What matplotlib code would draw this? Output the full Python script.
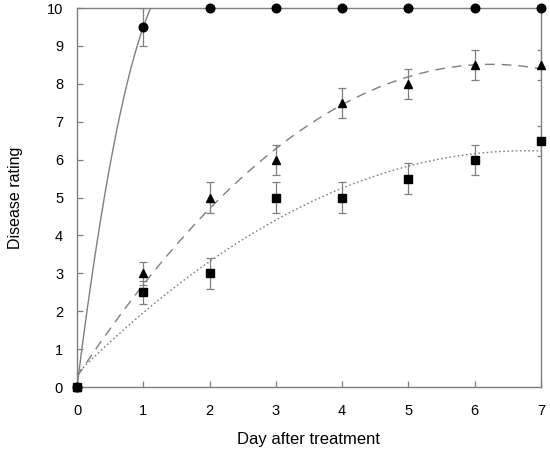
import numpy as np
import matplotlib
matplotlib.use('Agg')
import matplotlib.pyplot as plt

plt.rcParams['font.family'] = ['Liberation Sans', 'DejaVu Sans']

days = [0, 1, 2, 3, 4, 5, 6, 7]

# disease rating per treatment
circle_y = [0, 9.5, 10, 10, 10, 10, 10, 10]
circle_err = [0, 0.5, 0, 0, 0, 0, 0, 0]
triangle_y = [0, 3, 5, 6, 7.5, 8, 8.5, 8.5]
triangle_err = [0, 0.3, 0.4, 0.4, 0.4, 0.4, 0.4, 0.4]
square_y = [0, 2.5, 3, 5, 5, 5.5, 6, 6.5]
square_err = [0, 0.3, 0.4, 0.4, 0.4, 0.4, 0.4, 0.4]

gray = '#7f7f7f'

fig = plt.figure(figsize=(5.5, 4.49), dpi=100)
ax = fig.add_axes([0.14, 0.138, 0.8436, 0.844])

xs = np.linspace(0, 7, 400)

# fitted curves (quadratic regression), circle curve levels off at the max rating
c_fit = np.polyfit(days[:3], circle_y[:3], 2)
c_curve = np.maximum.accumulate(np.minimum(np.polyval(c_fit, xs), 10))
ax.plot(xs, c_curve, color=gray, lw=1.0, zorder=2)
t_fit = np.polyfit(days, triangle_y, 2)
ax.plot(xs, np.polyval(t_fit, xs), color=gray, lw=1.0, dashes=(7, 5), zorder=2)
s_fit = np.polyfit(days, square_y, 2)
ax.plot(xs, np.polyval(s_fit, xs), color=gray, lw=1.0, ls=(0, (1.2, 1.8)), zorder=2)

ebkw = dict(fmt='none', ecolor=gray, elinewidth=0.9, capsize=3, capthick=0.9, zorder=3)
ax.errorbar(days, circle_y, yerr=circle_err, **ebkw)
ax.errorbar(days, triangle_y, yerr=triangle_err, **ebkw)
ax.errorbar(days, square_y, yerr=square_err, **ebkw)

ax.plot(days, circle_y, 'o', color='black', ms=6.2, ls='none', zorder=4, clip_on=False)
ax.plot(days, triangle_y, '^', color='black', ms=6.2, ls='none', zorder=4, clip_on=False)
ax.plot(days, square_y, 's', color='black', ms=6.2, ls='none', zorder=4, clip_on=False)

ax.set_xlim(0, 7)
ax.set_ylim(0, 10)
ax.set_xticks(range(0, 8))
ax.set_yticks(range(0, 11))
for sp in ax.spines.values():
    sp.set_color(gray)
    sp.set_linewidth(1.0)
ax.tick_params(direction='in', length=4, width=0.9, color=gray, labelsize=10.5)
ax.tick_params(axis='x', pad=12.5)
ax.tick_params(axis='y', pad=10)
ax.set_xlabel('Day after treatment', fontsize=12, labelpad=10)
ax.set_ylabel('Disease rating', fontsize=11.5, labelpad=17)

fig.savefig('out.png', dpi=100)
